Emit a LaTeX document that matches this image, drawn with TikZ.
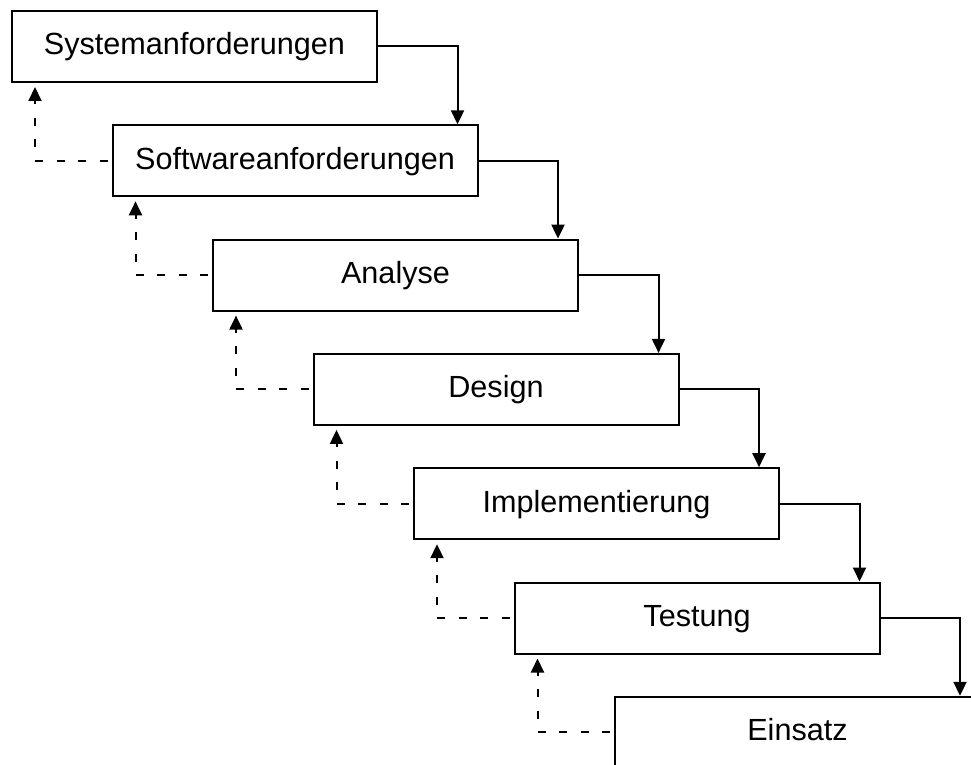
\documentclass[tikz,border=0pt]{standalone}
\usepackage{fontspec}
\setmainfont{Liberation Sans}
\usetikzlibrary{arrows.meta}
\begin{document}
\begin{tikzpicture}[x=1pt,y=-1pt,
  phase/.style={draw=black, line width=2pt, fill=white,
    minimum width=365pt, minimum height=71pt, inner sep=0pt,
    font=\fontsize{30.6}{36}\selectfont, text height=23pt, text depth=6pt},
  flow/.style={line width=2pt, -{Triangle[width=13pt,length=14pt]}},
  back/.style={line width=2pt, dash pattern=on 8pt off 13.5pt, dash phase=17.5pt,
    -{Triangle[width=13pt,length=14pt]}, shorten >=4pt}]
  \useasboundingbox (0,0) rectangle (971,765);
  \clip (0,0) rectangle (971,765);
  \fill[white] (0,0) rectangle (971,765);

  % the phases, stepping down to the right
  \node[phase] (s1) at (194.5, 46.5) {Systemanforderungen};
  \node[phase] (s2) at (295.0,160.8) {Softwareanforderungen};
  \node[phase] (s3) at (395.5,275.1) {Analyse};
  \node[phase] (s4) at (496.0,389.4) {Design};
  \node[phase] (s5) at (596.5,503.7) {Implementierung};
  \node[phase] (s6) at (697.0,618.0) {Testung};
  \node[phase] (s7) at (797.5,732.3) {Einsatz};

  % forward flow and feedback to the previous phase
  \foreach \a/\b in {s1/s2,s2/s3,s3/s4,s4/s5,s5/s6,s6/s7}{
    \draw[flow] (\a.east) -| ([xshift=-21pt]\b.north east);
    \draw[back] (\b.west) -| ([xshift=24pt]\a.south west);
  }
\end{tikzpicture}
\end{document}
